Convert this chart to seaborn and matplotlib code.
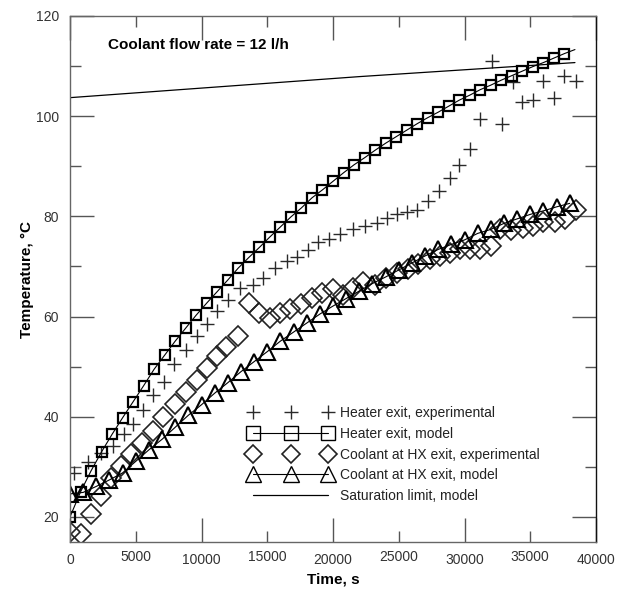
import matplotlib
matplotlib.use("Agg")
import matplotlib.pyplot as plt
from matplotlib.ticker import MultipleLocator, FixedLocator, FuncFormatter
import numpy as np
import pandas as pd
import seaborn as sns

# Heater exit, model (squares every 800 s; line continues to 38400 s)
heater_model_t = [0, 800, 1600, 2400, 3200, 4000, 4800, 5600, 6400, 7200, 8000, 8800,
                  9600, 10400, 11200, 12000, 12800, 13600, 14400, 15200, 16000, 16800,
                  17600, 18400, 19200, 20000, 20800, 21600, 22400, 23200, 24000, 24800,
                  25600, 26400, 27200, 28000, 28800, 29600, 30400, 31200, 32000, 32800,
                  33600, 34400, 35200, 36000, 36800, 37600, 38400]
heater_model_T = [20.0, 25.0, 29.2, 33.0, 36.5, 39.8, 43.0, 46.2, 49.5, 52.3, 55.1, 57.7,
                  60.3, 62.7, 65.0, 67.3, 69.7, 71.8, 73.8, 75.9, 77.9, 79.9,
                  81.7, 83.7, 85.3, 87.0, 88.7, 90.3, 91.7, 93.2, 94.6, 95.9,
                  97.2, 98.5, 99.7, 100.8, 102.0, 103.2, 104.2, 105.3, 106.2, 107.2,
                  108.1, 109.0, 109.9, 110.7, 111.6, 112.5, 113.3]

# Coolant at HX exit, model
coolant_model_t = [0, 1000, 2000, 3000, 4000, 5000, 6000, 7000, 8000, 9000, 10000,
                   11000, 12000, 13000, 14000, 15000, 16000, 17000, 18000, 19000, 20000,
                   21000, 22000, 23000, 24000, 25000, 26000, 27000, 28000, 29000, 30000,
                   31000, 32000, 33000, 34000, 35000, 36000, 37000, 38000]
coolant_model_T = [24.6, 24.9, 26.1, 27.4, 28.8, 31.1, 33.4, 35.5, 37.9, 40.3, 42.4,
                   44.7, 46.8, 49.0, 51.0, 53.0, 55.1, 56.9, 58.7, 60.5, 62.1,
                   63.6, 65.1, 66.6, 67.9, 69.3, 70.7, 72.1, 73.4, 74.4, 75.3,
                   76.6, 77.4, 78.6, 79.5, 80.4, 81.1, 81.9, 82.6]

# Heater exit, experimental
heater_exp_t = [300, 1350, 2350, 3300, 4130, 4810, 5570, 6330, 7120, 7900, 8810, 9630,
                10450, 11200, 12040, 12930, 13890, 14700, 15590, 16480, 17290, 18120,
                18880, 19720, 20530, 21545, 22430, 23320, 24080, 24840, 25600, 26360,
                27200, 28085, 28900, 29600, 30420, 31180, 32070, 32830, 33660, 34350,
                35235, 35950, 36830, 37570, 38480]
heater_exp_T = [28.8, 30.9, 32.8, 34.2, 36.6, 38.6, 41.3, 44.3, 46.9, 50.5, 53.4, 56.1,
                58.5, 61.1, 63.4, 65.7, 66.4, 67.7, 69.7, 71.1, 71.8, 73.3,
                74.9, 75.5, 76.5, 77.4, 78.1, 78.7, 79.6, 80.4, 80.8, 81.3,
                83.0, 85.0, 87.6, 90.3, 93.4, 99.4, 111.1, 98.4, 106.9, 102.9,
                103.3, 107.1, 103.7, 108.0, 107.1]

# Coolant at HX exit, experimental
coolant_exp_t = [0, 800, 1600, 2350, 3100, 3850, 4650, 5450, 6300, 7100, 7950, 8800,
                 9630, 10400, 11150, 11900, 12750, 13600, 14400, 15200, 15970, 16760,
                 17570, 18380, 19150, 19975, 20785, 21545, 22300, 23190, 24050, 24900,
                 25700, 26500, 27350, 28100, 28900, 29660, 30420, 31180, 32000, 32700,
                 33550, 34450, 35235, 36000, 36850, 37640, 38450]
coolant_exp_T = [17.0, 16.6, 20.6, 24.2, 27.8, 30.2, 32.6, 34.8, 37.2, 39.9, 42.6, 45.0,
                 47.3, 49.8, 52.2, 54.0, 56.2, 62.8, 60.7, 59.7, 60.7, 61.5,
                 62.6, 63.7, 64.7, 65.6, 64.4, 65.8, 66.9, 66.4, 67.7, 68.6,
                 69.5, 70.5, 71.4, 72.0, 72.7, 73.4, 73.4, 73.4, 74.1, 77.4,
                 77.3, 77.6, 78.1, 78.9, 78.8, 79.5, 81.2]

# Saturation limit, model
sat_t = [0, 22000, 38400]
sat_T = [103.7, 107.9, 110.7]

legend_labels = ["Heater exit, experimental", "Heater exit, model",
                 "Coolant at HX exit, experimental", "Coolant at HX exit, model",
                 "Saturation limit, model"]

sns.set_theme(style="ticks")
plt.rcParams["font.family"] = ["Liberation Sans", "DejaVu Sans"]

fig = plt.figure(figsize=(6.3, 5.9), dpi=100)
ax = fig.add_axes([70 / 630, 1 - 542 / 590, 526 / 630, 526 / 590])

common = dict(ax=ax, estimator=None, errorbar=None, sort=False, legend=False)

sns.lineplot(x=heater_exp_t, y=heater_exp_T, marker="+", linestyle="none",
             markersize=10, markeredgewidth=1.0, color="#2a2a2a",
             markeredgecolor="#2a2a2a", label=legend_labels[0], **common)
sns.lineplot(x=heater_model_t, y=heater_model_T, marker="s", color="black",
             linewidth=0.8, markersize=7, markeredgewidth=1.6, markerfacecolor="none",
             markeredgecolor="black", markevery=list(range(len(heater_model_t) - 1)),
             label=legend_labels[1], **common)
sns.lineplot(x=coolant_exp_t, y=coolant_exp_T, marker="D", linestyle="none",
             markersize=10, markeredgewidth=1.2, markerfacecolor="none",
             color="#222222", markeredgecolor="#222222",
             label=legend_labels[2], **common)
sns.lineplot(x=coolant_model_t, y=coolant_model_T, marker="^", color="black",
             linewidth=0.8, markersize=11, markeredgewidth=1.5, markerfacecolor="none",
             markeredgecolor="black", label=legend_labels[3], **common)
sns.lineplot(x=sat_t, y=sat_T, color="black", linewidth=0.9,
             label=legend_labels[4], **common)

ax.set_xlim(0, 40000)
ax.set_ylim(15, 120)

# x: long ticks every 10000, short ticks in between, all labelled
ax.xaxis.set_major_locator(MultipleLocator(10000))
ax.xaxis.set_minor_locator(FixedLocator([5000, 15000, 25000, 35000]))
fmt = FuncFormatter(lambda v, p: f"{int(round(v))}")
ax.xaxis.set_major_formatter(fmt)
ax.xaxis.set_minor_formatter(fmt)
ax.yaxis.set_major_locator(MultipleLocator(20))
ax.yaxis.set_minor_locator(MultipleLocator(10))

ax.tick_params(which="both", direction="in", top=True, right=True,
               colors="#555555", labelcolor="#333333", labelsize=10)
ax.tick_params(which="major", length=17, width=1.0, pad=8)
ax.tick_params(which="minor", length=8, width=1.0, pad=8)
ax.tick_params(axis="x", which="minor", pad=6)

for side in ["left", "top", "bottom"]:
    ax.spines[side].set_color("#666666")
ax.spines["right"].set_color("#111111")
for s in ax.spines.values():
    s.set_linewidth(1.0)

ax.set_xlabel("Time, s", fontsize=11, fontweight="bold", color="black", labelpad=4)
ax.set_ylabel("Temperature, °C", fontsize=11, fontweight="bold", color="black",
              labelpad=1)

ax.text(0.072, 0.945, "Coolant flow rate = 12 l/h", transform=ax.transAxes,
        fontsize=11, fontweight="bold", va="center", ha="left", color="black")

leg = ax.legend(loc="center left", bbox_to_anchor=(0.33, 0.166), frameon=False,
                numpoints=3, handlelength=6.0, handletextpad=0.55, labelspacing=0.48,
                borderaxespad=0, fontsize=10, labelcolor="#222222")
for h in leg.legend_handles:
    if h.get_marker() == "s":
        h.set_markersize(10)
        h.set_markeredgewidth(1.0)
    elif h.get_marker() == "^":
        h.set_markeredgewidth(1.0)
    elif h.get_marker() == "D":
        h.set_markersize(9)

fig.savefig("out.png", dpi=100, facecolor="white")
